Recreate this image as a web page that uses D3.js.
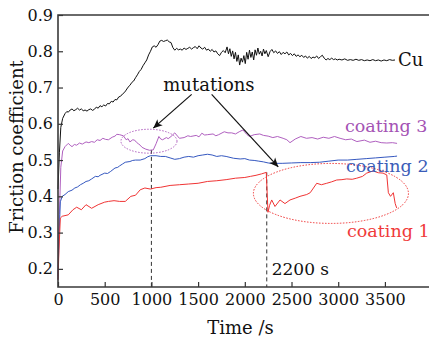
<!DOCTYPE html>
<html><head><meta charset="utf-8">
<script src="https://cdn.jsdelivr.net/npm/d3@7"></script>
<style>html,body{margin:0;padding:0;background:#fff;}svg{display:block;font-family:"DejaVu Serif",serif;}</style>
</head><body>
<svg id="c" width="429" height="340"></svg>
<script>
// ---- data: [time (s), friction coefficient] ----
const cuData = [[0,0.42],[15,0.52],[30,0.59],[50,0.615],[75,0.628],[95,0.634],[110,0.632],[130,0.638],[150,0.641],[170,0.636],[190,0.639],[210,0.643],[230,0.638],[250,0.641],[270,0.636],[290,0.638],[310,0.635],[330,0.639],[350,0.641],[370,0.637],[390,0.640],[410,0.646],[430,0.643],[450,0.650],[470,0.647],[490,0.652],[510,0.649],[530,0.656],[550,0.655],[570,0.662],[590,0.660],[610,0.667],[630,0.666],[650,0.674],[670,0.676],[690,0.682],[710,0.686],[730,0.693],[750,0.701],[770,0.706],[790,0.714],[810,0.718],[830,0.727],[850,0.735],[870,0.744],[890,0.750],[910,0.760],[930,0.768],[950,0.776],[970,0.790],[990,0.800],[1010,0.812],[1030,0.815],[1050,0.811],[1070,0.818],[1090,0.828],[1110,0.830],[1130,0.827],[1150,0.829],[1170,0.831],[1190,0.826],[1210,0.824],[1230,0.810],[1250,0.803],[1270,0.808],[1290,0.804],[1310,0.806],[1330,0.803],[1350,0.809],[1370,0.805],[1390,0.808],[1410,0.811],[1430,0.806],[1450,0.810],[1470,0.813],[1490,0.807],[1510,0.815],[1530,0.809],[1550,0.806],[1570,0.811],[1590,0.803],[1610,0.806],[1630,0.800],[1650,0.805],[1670,0.798],[1690,0.801],[1710,0.793],[1730,0.788],[1750,0.797],[1770,0.802],[1790,0.796],[1810,0.812],[1825,0.793],[1840,0.807],[1855,0.786],[1870,0.801],[1885,0.779],[1900,0.797],[1915,0.772],[1930,0.790],[1945,0.762],[1960,0.781],[1975,0.770],[1990,0.788],[2005,0.766],[2020,0.797],[2035,0.778],[2050,0.803],[2065,0.783],[2080,0.798],[2095,0.776],[2110,0.804],[2125,0.789],[2140,0.809],[2155,0.792],[2170,0.800],[2185,0.787],[2200,0.806],[2215,0.793],[2230,0.802],[2250,0.785],[2270,0.799],[2290,0.805],[2310,0.796],[2330,0.801],[2350,0.794],[2370,0.799],[2390,0.791],[2410,0.797],[2430,0.793],[2450,0.798],[2470,0.790],[2490,0.794],[2510,0.788],[2530,0.793],[2550,0.786],[2570,0.790],[2590,0.785],[2610,0.789],[2630,0.783],[2650,0.787],[2670,0.781],[2690,0.786],[2710,0.780],[2730,0.784],[2750,0.782],[2770,0.787],[2790,0.780],[2810,0.785],[2830,0.789],[2850,0.781],[2870,0.776],[2890,0.780],[2910,0.777],[2930,0.781],[2950,0.777],[2970,0.779],[2990,0.776],[3010,0.778],[3040,0.776],[3070,0.779],[3100,0.775],[3130,0.777],[3160,0.775],[3190,0.778],[3220,0.775],[3250,0.777],[3280,0.774],[3310,0.776],[3340,0.774],[3370,0.777],[3400,0.774],[3430,0.776],[3460,0.773],[3490,0.776],[3520,0.774],[3550,0.777],[3580,0.775],[3608,0.776]];

const coating3Data = [[0,0.18],[15,0.35],[30,0.48],[50,0.525],[75,0.537],[110,0.546],[130,0.541],[150,0.537],[175,0.543],[200,0.541],[230,0.547],[260,0.544],[300,0.550],[330,0.548],[360,0.551],[390,0.549],[420,0.556],[450,0.554],[480,0.560],[510,0.557],[540,0.556],[580,0.563],[610,0.566],[630,0.571],[660,0.570],[700,0.567],[730,0.556],[750,0.559],[770,0.550],[800,0.556],[820,0.555],[840,0.549],[860,0.545],[880,0.541],[900,0.535],[940,0.530],[980,0.527],[1020,0.528],[1050,0.545],[1080,0.565],[1100,0.558],[1120,0.556],[1160,0.562],[1180,0.559],[1210,0.565],[1250,0.575],[1280,0.566],[1300,0.560],[1350,0.562],[1390,0.567],[1420,0.565],[1480,0.568],[1510,0.564],[1540,0.574],[1570,0.569],[1600,0.570],[1660,0.572],[1690,0.567],[1720,0.570],[1780,0.578],[1820,0.575],[1860,0.575],[1900,0.572],[1940,0.578],[1980,0.583],[2020,0.571],[2050,0.565],[2100,0.570],[2160,0.572],[2200,0.568],[2250,0.566],[2300,0.562],[2350,0.565],[2410,0.560],[2450,0.556],[2484,0.548],[2540,0.558],[2600,0.565],[2660,0.560],[2720,0.562],[2780,0.558],[2840,0.563],[2900,0.560],[2960,0.565],[3020,0.560],[3080,0.556],[3140,0.558],[3200,0.551],[3280,0.555],[3340,0.549],[3400,0.552],[3460,0.548],[3520,0.547],[3580,0.548],[3630,0.546]];

const coating2Data = [[0,0.17],[10,0.28],[25,0.385],[45,0.400],[75,0.405],[110,0.413],[150,0.417],[180,0.423],[210,0.426],[240,0.432],[270,0.436],[300,0.441],[330,0.443],[360,0.448],[400,0.455],[430,0.454],[450,0.458],[500,0.464],[530,0.463],[560,0.468],[610,0.478],[640,0.480],[660,0.484],[690,0.489],[720,0.494],[770,0.496],[800,0.499],[830,0.500],[880,0.500],[930,0.504],[960,0.509],[990,0.512],[1050,0.512],[1100,0.510],[1150,0.510],[1200,0.506],[1250,0.502],[1300,0.504],[1350,0.508],[1400,0.510],[1450,0.508],[1500,0.512],[1550,0.514],[1600,0.516],[1650,0.514],[1700,0.510],[1750,0.512],[1800,0.510],[1880,0.505],[1950,0.503],[2000,0.504],[2050,0.500],[2100,0.499],[2150,0.497],[2200,0.495],[2250,0.492],[2300,0.491],[2400,0.491],[2500,0.492],[2600,0.493],[2700,0.493],[2800,0.494],[2900,0.497],[3000,0.500],[3100,0.500],[3200,0.502],[3300,0.504],[3400,0.506],[3500,0.508],[3600,0.510],[3630,0.511]];

const coating1Data = [[0,0.17],[10,0.25],[25,0.34],[45,0.345],[110,0.349],[160,0.363],[200,0.370],[250,0.363],[300,0.377],[360,0.367],[430,0.377],[500,0.384],[540,0.386],[600,0.388],[660,0.386],[720,0.386],[780,0.400],[830,0.403],[880,0.418],[930,0.423],[990,0.420],[1050,0.424],[1100,0.425],[1200,0.430],[1300,0.432],[1400,0.434],[1500,0.436],[1600,0.441],[1700,0.443],[1800,0.446],[1900,0.450],[2000,0.452],[2060,0.455],[2120,0.458],[2180,0.462],[2230,0.466],[2248,0.356],[2265,0.375],[2288,0.390],[2323,0.372],[2377,0.390],[2430,0.380],[2484,0.390],[2540,0.395],[2591,0.400],[2663,0.405],[2700,0.410],[2770,0.436],[2820,0.432],[2877,0.436],[2930,0.440],[2984,0.445],[3040,0.446],[3091,0.448],[3150,0.447],[3198,0.450],[3260,0.455],[3305,0.464],[3373,0.470],[3430,0.465],[3480,0.464],[3520,0.459],[3537,0.410],[3560,0.400],[3590,0.410],[3610,0.380],[3626,0.368]];

const xTicks = [0,500,1000,1500,2000,2500,3000,3500];
const yTicks = [0.2,0.3,0.4,0.5,0.6,0.7,0.8,0.9];
const seriesNames = ["Cu","coating 3","coating 2","coating 1"];
const seriesColors = ["#111111","#b060c0","#3558c0","#f03434"];
const labelColors = ["#111111","#a452b4","#3a5cb8","#f03a3a"];
// annotations (data units)
const labelPos = [[3640,0.760],[3072,0.578],[3083,0.468],[3094,0.289]];
const mutationText = {t:1616, v:0.691, text:"mutations"};
const arrows = [[1431,0.681,1020,0.588],[1645,0.681,2358,0.481]];
const dashedT = [1000,2235];
const dashedTop = [0.528,0.466];
const ellipses = [{t:974,v:0.552,rt:300,rv:0.033,color:"#b060c0"},{t:2922,v:0.408,rt:830,rv:0.0827,color:"#f03434"}];
const timeNote = {t:2288, v:0.183, text:"2200 s"};

// ---- drawing ----
const svg = d3.select("#c");
const L=58, R=429, T=15, B=287;
const x = d3.scaleLinear().domain([0,3972]).range([L,R]);
const y = d3.scaleLinear().domain([0.15,0.9]).range([B,T]);

svg.append("defs").append("marker").attr("id","ah").attr("viewBox","0 0 10 10")
  .attr("refX",10).attr("refY",5).attr("markerWidth",9).attr("markerHeight",9)
  .attr("markerUnits","userSpaceOnUse").attr("orient","auto")
  .append("path").attr("d","M0,0.5 L10,5 L0,9.5 L2.5,5 Z").attr("fill","#111");

dashedT.forEach((t,i)=>{
  svg.append("line").attr("x1",x(t)).attr("x2",x(t)).attr("y1",y(dashedTop[i])).attr("y2",B)
    .attr("stroke","#333").attr("stroke-width",1).attr("stroke-dasharray","4,3");
});

const line = d3.line().x(d=>x(d[0])).y(d=>y(d[1]));
[cuData,coating3Data,coating2Data,coating1Data].forEach((pts,i)=>{
  svg.append("path").datum(pts).attr("d",line).attr("fill","none")
    .attr("stroke",seriesColors[i]).attr("stroke-width",1).attr("stroke-linejoin","round");
});

ellipses.forEach(e=>{
  svg.append("ellipse").attr("cx",x(e.t)).attr("cy",y(e.v))
    .attr("rx",x(e.t+e.rt)-x(e.t)).attr("ry",y(e.v)-y(e.v+e.rv))
    .attr("fill","none").attr("stroke",e.color).attr("stroke-width",1).attr("stroke-dasharray","1.5,1.5");
});

arrows.forEach(a=>{
  svg.append("line").attr("x1",x(a[0])).attr("y1",y(a[1])).attr("x2",x(a[2])).attr("y2",y(a[3]))
    .attr("stroke","#111").attr("stroke-width",1.2).attr("marker-end","url(#ah)");
});

const ax = svg.append("g").attr("transform",`translate(0,${B})`)
  .call(d3.axisBottom(x).tickValues(xTicks).tickFormat(d3.format("d")).tickSizeInner(-5).tickSizeOuter(0).tickPadding(7));
const ay = svg.append("g").attr("transform",`translate(${L},0)`)
  .call(d3.axisLeft(y).tickValues(yTicks).tickFormat(d3.format(".1f")).tickSizeInner(-5).tickSizeOuter(0).tickPadding(5));
[ax,ay].forEach(g=>{
  g.select(".domain").remove();
  g.selectAll("line").attr("stroke","#333").attr("stroke-width",1.2);
  g.selectAll("text").attr("font-family","DejaVu Serif").attr("font-size",16).attr("fill","#111");
});
svg.append("path").attr("d",`M${R},${T}H${L}V${B}H${R}`).attr("fill","none")
  .attr("stroke","#3a3a3a").attr("stroke-width",1.6);

seriesNames.forEach((n,i)=>{
  svg.append("text").attr("x",x(labelPos[i][0])).attr("y",y(labelPos[i][1]))
    .attr("font-size",i===0?18:17.5).attr("fill",labelColors[i]).text(n);
});
svg.append("text").attr("x",x(mutationText.t)).attr("y",y(mutationText.v)).attr("text-anchor","middle")
  .attr("font-size",18).attr("fill","#111").text(mutationText.text);
svg.append("text").attr("x",x(timeNote.t)).attr("y",y(timeNote.v))
  .attr("font-size",17).attr("fill","#111").text(timeNote.text);

svg.append("text").attr("x",(L+R)/2-3).attr("y",334).attr("text-anchor","middle")
  .attr("font-size",18).attr("fill","#111").text("Time /s");
svg.append("text").attr("transform",`translate(23,${(T+B)/2-4}) rotate(-90)`).attr("text-anchor","middle")
  .attr("font-size",18).attr("fill","#111").text("Friction coefficient");
</script>
</body></html>
